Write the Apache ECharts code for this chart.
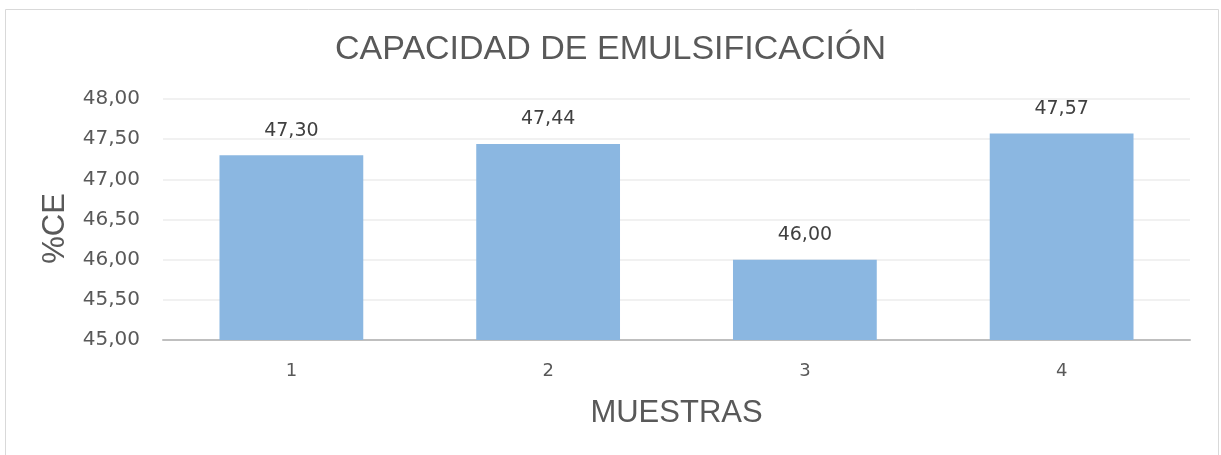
<!DOCTYPE html>
<html>
<head>
<meta charset="utf-8">
<script src="https://cdn.jsdelivr.net/npm/echarts@6/dist/echarts.min.js"></script>
<style>
html, body { margin: 0; padding: 0; background: #fff; }
#main { width: 1221px; height: 455px; }
</style>
</head>
<body>
<div id="main"></div>
<script>
// datos del gráfico
var muestras = ['1', '2', '3', '4'];
var valoresCE = [47.30, 47.44, 46.00, 47.57];

var myChart = echarts.init(document.getElementById('main'));

function coma(v) {
	return v.toFixed(2).replace('.', ',');
}

var option = {
	backgroundColor: '#fff',
	animation: false,
	graphic: [{
		type: 'rect',
		shape: { x: 5.5, y: 9.5, width: 1213, height: 460 },
		style: { fill: 'none', stroke: '#d9d9d9', lineWidth: 1 }
	}],
	title: {
		text: 'CAPACIDAD DE EMULSIFICACIÓN',
		left: 'center',
		top: 28,
		textStyle: {
			fontFamily: 'Liberation Sans',
			fontSize: 34,
			fontWeight: 'normal',
			color: '#595959'
		}
	},
	grid: {
		left: 163,
		right: 31,
		top: 99,
		bottom: 115
	},
	xAxis: {
		type: 'category',
		data: muestras,
		name: 'MUESTRAS',
		nameLocation: 'middle',
		nameGap: 58,
		nameTextStyle: {
			fontFamily: 'Liberation Sans',
			fontSize: 31,
			color: '#595959'
		},
		axisLine: { lineStyle: { color: '#bfbfbf', width: 2 } },
		axisTick: { show: false },
		axisLabel: {
			margin: 22,
			fontFamily: 'DejaVu Sans',
			fontSize: 18,
			color: '#595959'
		}
	},
	yAxis: {
		type: 'value',
		min: 45,
		max: 48,
		interval: 0.5,
		name: '%CE',
		nameLocation: 'middle',
		nameGap: 92,
		nameRotate: 90,
		nameTextStyle: {
			fontFamily: 'Liberation Sans',
			fontSize: 31,
			color: '#595959',
			padding: [0, 0, 0, -18]
		},
		axisLine: { show: false },
		axisTick: { show: false },
		axisLabel: {
			margin: 23,
			fontFamily: 'DejaVu Sans',
			fontSize: 20,
			color: '#595959',
			formatter: function (v) { return coma(v); }
		},
		splitLine: { lineStyle: { color: '#ececec', width: 1.5 } }
	},
	series: [{
		name: '%CE',
		type: 'bar',
		data: valoresCE,
		barWidth: '56%',
		itemStyle: { color: '#8bb7e1' },
		label: {
			show: true,
			position: 'top',
			distance: 15,
			fontFamily: 'DejaVu Sans',
			fontSize: 19,
			color: '#404040',
			formatter: function (p) { return coma(p.value); }
		}
	}]
};

myChart.setOption(option);
</script>
</body>
</html>
